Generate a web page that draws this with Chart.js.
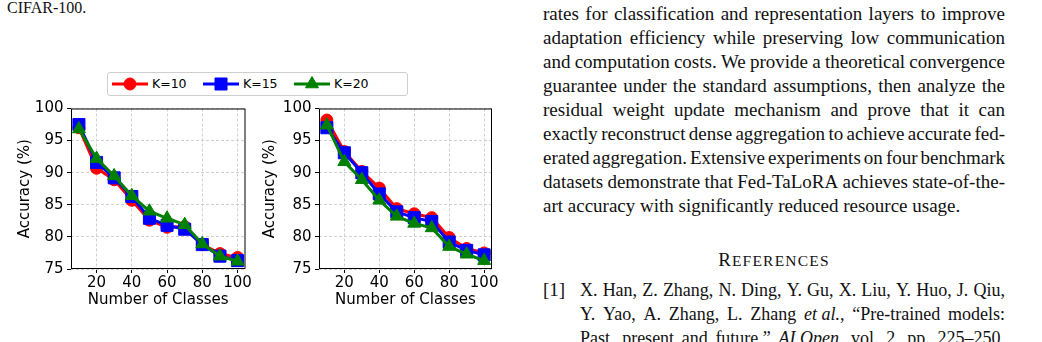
<!DOCTYPE html>
<html>
<head>
<meta charset="utf-8">
<script src="https://cdn.jsdelivr.net/npm/chart.js@4.4.1/dist/chart.umd.min.js"></script>
<style>
  html, body { margin: 0; padding: 0; background: #fff; }
  body { width: 1042px; height: 342px; position: relative; overflow: hidden;
         font-family: "Liberation Serif", "Times New Roman", serif; color: #111; }
  canvas.plot { position: absolute; top: 96px; }
  .ln { position: absolute; height: 24px; line-height: 24px; font-size: 19px; white-space: nowrap; }
  .j { display: flex; justify-content: space-between; }
  .sc { font-size: 15.5px; letter-spacing: 1.2px; }
  #legend { position: absolute; left: 107px; top: 72px; width: 299px; height: 22px;
            border: 1px solid #cfcfcf; border-radius: 3px; background: #fff;
            font-family: "DejaVu Sans", sans-serif; font-size: 12.5px; color: #000; }
  #legend canvas, #legend span { position: absolute; top: 0; }
  #legend span { line-height: 22px; }
</style>
</head>
<body>

<div class="ln" style="left:7px;top:-2px;font-size:16px;line-height:19px;height:19px">CIFAR-100.</div>

<div id="legend"></div>
<canvas id="leftChart" class="plot" width="255" height="216" style="left:0px"></canvas>
<canvas id="rightChart" class="plot" width="255" height="216" style="left:255px"></canvas>

<div id="text"></div>

<script>
// x values (number of classes) and tick labels
const classes = [10, 20, 30, 40, 50, 60, 70, 80, 90, 100];
const xTicks = [20, 40, 60, 80, 100];
const yTicks = [75, 80, 85, 90, 95, 100];
const seriesLabels = ['K=10', 'K=15', 'K=20'];

// left panel
const leftK10 = [97.0, 90.7, 88.9, 85.7, 82.6, 81.5, 81.6, 78.8, 77.4, 76.8];
const leftK15 = [97.5, 91.6, 89.2, 86.3, 82.9, 81.8, 81.2, 78.8, 77.0, 76.3];
const leftK20 = [96.8, 92.2, 89.5, 86.4, 84.0, 82.9, 81.9, 78.9, 77.0, 76.2];

// right panel
const rightK10 = [98.2, 93.3, 90.2, 87.6, 84.4, 83.6, 83.0, 79.9, 78.2, 77.5];
const rightK15 = [97.0, 93.1, 90.0, 86.7, 83.9, 83.0, 82.4, 79.2, 77.9, 77.2];
const rightK20 = [97.4, 91.7, 88.9, 85.7, 83.2, 82.1, 81.4, 78.5, 77.3, 76.3];

// styles
const colors = ['#ff0000', '#0000ff', '#008000'];
const markers = ['circle', 'rect', 'triangle'];
const markerRadius = [6, 8.5, 7.5];
const gridColor = '#d0d0d0';
const axisFont = { size: 15 };

Chart.defaults.font.family = 'DejaVu Sans';
Chart.defaults.color = '#000';

const framePlugin = {
  id: 'frame',
  afterDatasetsDraw(chart) {
    const { ctx, chartArea: a } = chart;
    ctx.save();
    ctx.strokeStyle = '#000';
    ctx.lineWidth = 1;
    ctx.strokeRect(a.left + 0.5, a.top + 0.5, a.right - a.left - 1, a.bottom - a.top - 1);
    ctx.restore();
  }
};

function makeChart(id, series, yWidth, titlePad, padRight) {
  return new Chart(document.getElementById(id), {
    type: 'line',
    data: {
      datasets: series.map((vals, i) => ({
        label: seriesLabels[i],
        data: classes.map((c, j) => ({ x: c, y: vals[j] })),
        borderColor: colors[i],
        backgroundColor: colors[i],
        pointStyle: markers[i],
        pointRadius: markerRadius[i],
        pointBorderWidth: 1,
        borderWidth: 3,
        tension: 0,
        order: 3 - i
      }))
    },
    options: {
      responsive: false,
      animation: false,
      devicePixelRatio: 1,
      layout: { padding: { top: 10, right: padRight, bottom: 1, left: 0 } },
      plugins: { legend: { display: false }, tooltip: { enabled: false } },
      scales: {
        x: {
          type: 'linear', min: 5.5, max: 104.5,
          afterBuildTicks: s => { s.ticks = xTicks.map(v => ({ value: v })); },
          afterFit: s => { s.height = 42; },
          grid: { color: gridColor, tickColor: '#000', tickLength: 4, tickWidth: 1 },
          border: { display: false, dash: [3, 2] },
          ticks: { padding: 1, font: axisFont, maxRotation: 0 },
          title: { display: true, text: 'Number of Classes', font: axisFont,
                   padding: { top: 0, bottom: 2 } }
        },
        y: {
          min: 75, max: 100,
          afterBuildTicks: s => { s.ticks = yTicks.map(v => ({ value: v })); },
          afterFit: s => { s.width = yWidth; },
          grid: { color: gridColor, tickColor: '#000', tickLength: 4, tickWidth: 1 },
          border: { display: false, dash: [3, 2] },
          ticks: { padding: 3.5, font: axisFont },
          title: { display: true, text: 'Accuracy (%)', font: axisFont,
                   padding: { top: titlePad, bottom: 0 } }
        }
      }
    },
    plugins: [framePlugin]
  });
}

const left = makeChart('leftChart', [leftK10, leftK15, leftK20], 71, 16, 9);
makeChart('rightChart', [rightK10, rightK15, rightK20], 64, 6, 18);

// legend shared by both panels, built from the left chart's datasets
const legendBox = document.getElementById('legend');
left.data.datasets.forEach((ds, i) => {
  const c = document.createElement('canvas');
  c.width = 38; c.height = 22;
  c.style.left = (3 + 91 * i) + 'px';
  legendBox.appendChild(c);
  const ctx = c.getContext('2d');
  ctx.strokeStyle = ds.borderColor;
  ctx.lineWidth = ds.borderWidth;
  ctx.beginPath(); ctx.moveTo(1, 11); ctx.lineTo(37, 11); ctx.stroke();
  ctx.fillStyle = ds.backgroundColor;
  ctx.lineWidth = ds.pointBorderWidth;
  Chart.helpers.drawPoint(ctx, { pointStyle: ds.pointStyle, radius: ds.pointRadius,
                                 rotation: 0, borderWidth: ds.pointBorderWidth }, 19, 11);
  const t = document.createElement('span');
  t.textContent = ds.label;
  t.style.left = (44 + 91 * i) + 'px';
  legendBox.appendChild(t);
});

// page text around the figure
const bodyLines = [
  ['rates for classification and representation layers to improve', true],
  ['adaptation efficiency while preserving low communication', true],
  ['and computation costs. We provide a theoretical convergence', true],
  ['guarantee under the standard assumptions, then analyze the', true],
  ['residual weight update mechanism and prove that it can', true],
  ['exactly reconstruct dense aggregation to achieve accurate fed-', true],
  ['erated aggregation. Extensive experiments on four benchmark', true],
  ['datasets demonstrate that Fed-TaLoRA achieves state-of-the-', true],
  ['art accuracy with significantly reduced resource usage.', false]
];
const refLines = [
  'X. Han, Z. Zhang, N. Ding, Y. Gu, X. Liu, Y. Huo, J. Qiu,',
  'Y. Yao, A. Zhang, L. Zhang <i>et al.</i>, “Pre-trained models:',
  'Past, present and future,” <i>AI Open</i>, vol. 2, pp. 225–250,'
];
const textBox = document.getElementById('text');
function addLine(html, x, y, w, justify, extra) {
  const d = document.createElement('div');
  d.className = 'ln' + (justify ? ' j' : '');
  d.style.left = x + 'px'; d.style.top = y + 'px';
  if (w) d.style.width = w + 'px';
  if (justify) {
    html.split(/ (?![^<]*<\/i>)/).forEach(word => {
      const s = document.createElement('span');
      s.innerHTML = word;
      d.appendChild(s);
    });
  } else {
    d.innerHTML = html;
  }
  if (extra) Object.assign(d.style, extra);
  textBox.appendChild(d);
}
bodyLines.forEach(([s, j], i) => addLine(s, 543, 2 + 24 * i, 462, j));
addLine('R<span class="sc">EFERENCES</span>', 543, 248, 462, false, { textAlign: 'center', letterSpacing: '1px' });
addLine('[1]', 543, 278, 0, false);
refLines.forEach((s, i) => addLine(s, 580, 278 + 24 * i, 425, true, { fontSize: '18px' }));
</script>
</body>
</html>
